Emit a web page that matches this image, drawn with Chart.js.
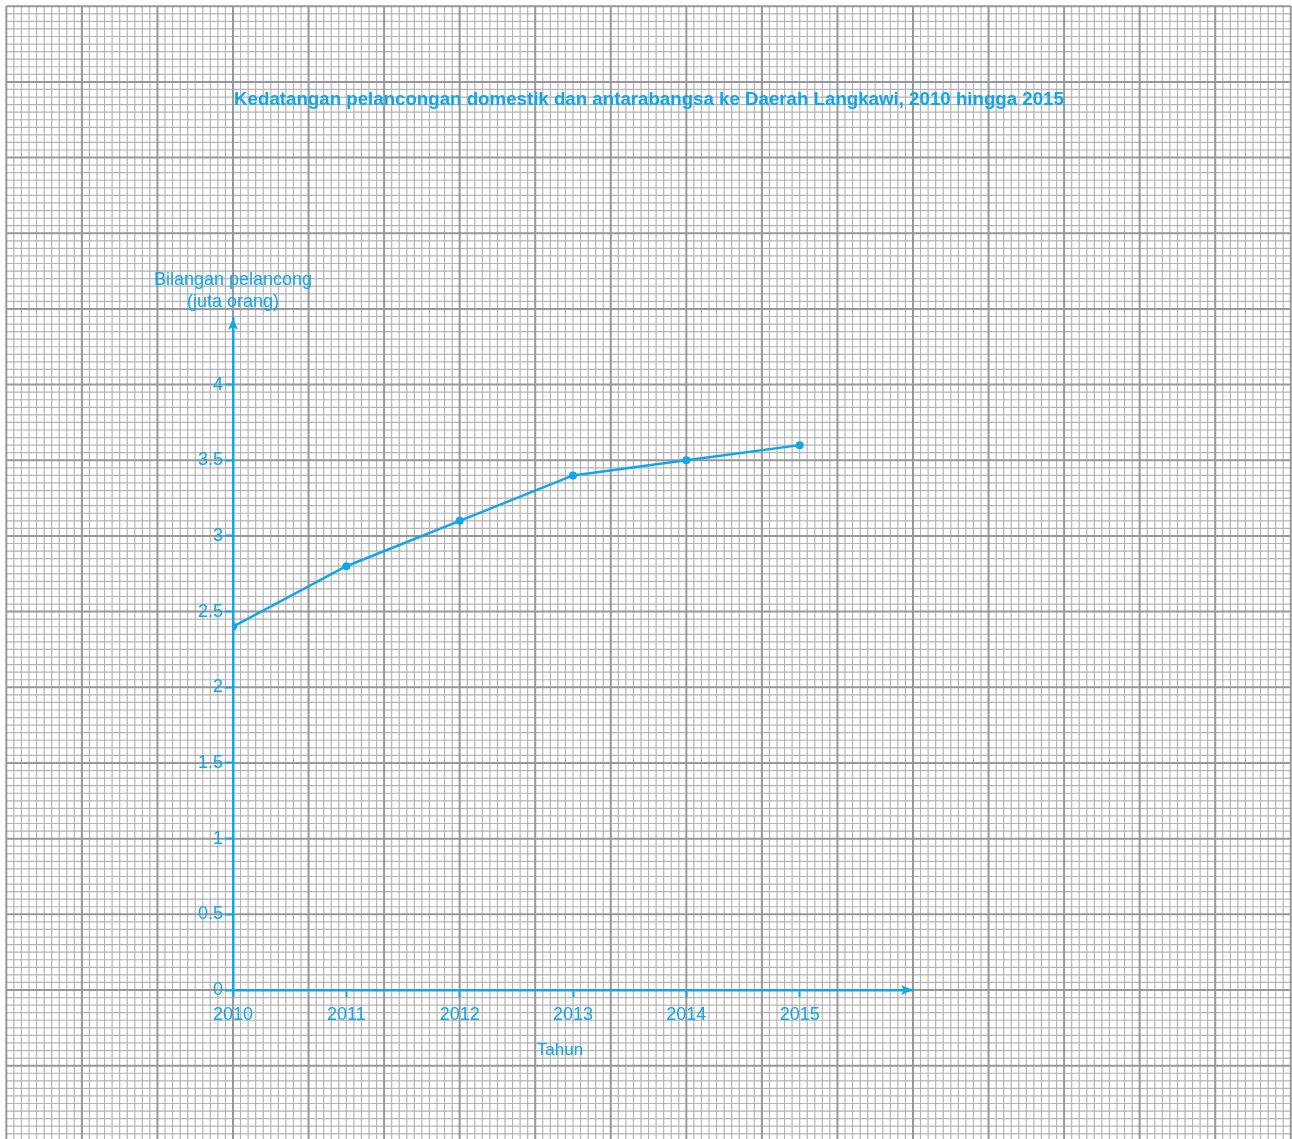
<!DOCTYPE html>
<html>
<head>
<meta charset="utf-8">
<script src="https://cdn.jsdelivr.net/npm/chart.js@4.4.1/dist/chart.umd.min.js"></script>
<style>
  body { margin: 0; background: #ffffff; }
  canvas { display: block; }
</style>
</head>
<body>
<canvas id="chart" width="1292" height="1139"></canvas>
<script>
// Data
const years = [2010, 2011, 2012, 2013, 2014, 2015];
const tourists = [2.4, 2.8, 3.1, 3.4, 3.5, 3.6];   // juta orang
const yTickValues = [0, 0.5, 1, 1.5, 2, 2.5, 3, 3.5, 4];

const titleText = 'Kedatangan pelancongan domestik dan antarabangsa ke Daerah Langkawi, 2010 hingga 2015';
const yTitleLines = ['Bilangan pelancong', '(juta orang)'];
const xTitleText = 'Tahun';

const BLUE = '#12a6e6';
const MINOR_COL = '#b4b4b6';
const MAJOR_COL = '#98989c';
const FONT = '"Liberation Sans", Arial, sans-serif';

// graph paper: minor squares are 1/15 year wide and 0.05 units high
const X_MINOR = 1 / 15;
const Y_MINOR = 0.05;

// Draws the graph paper background, using the chart's own scales so it lines up with the axes
const graphPaper = {
  id: 'graphPaper',
  beforeDraw(chart) {
    const ctx = chart.ctx;
    const x = chart.scales.x;
    const y = chart.scales.y;
    ctx.save();
    ctx.fillStyle = '#ffffff';
    ctx.fillRect(0, 0, chart.width, chart.height);

    const xs = [], ys = [];
    for (let k = -30; k <= 140; k++) xs.push({p: x.getPixelForValue(years[0] + k * X_MINOR), major: k % 10 == 0});
    for (let k = -20; k <= 130; k++) ys.push({p: y.getPixelForValue(k * Y_MINOR), major: k % 10 == 0});
    const left = xs[0].p, right = xs[xs.length - 1].p;
    const top = ys[ys.length - 1].p, bottom = chart.height;

    // minor first, then the heavier lines over them
    [false, true].forEach(major => {
      ctx.strokeStyle = major ? MAJOR_COL : MINOR_COL;
      ctx.lineWidth = major ? 2 : 1.2;
      ctx.beginPath();
      xs.filter(l => l.major == major).forEach(l => { ctx.moveTo(l.p, top); ctx.lineTo(l.p, bottom); });
      ys.filter(l => l.major == major).forEach(l => { ctx.moveTo(left, l.p); ctx.lineTo(right, l.p); });
      ctx.stroke();
    });
    ctx.restore();
  }
};

// Arrow heads on the axes plus the axis titles
const axisDecor = {
  id: 'axisDecor',
  afterDraw(chart) {
    const ctx = chart.ctx;
    const a = chart.chartArea;
    ctx.save();
    ctx.fillStyle = BLUE;
    // x arrow (slightly notched, like the original)
    ctx.beginPath();
    ctx.moveTo(a.right, a.bottom);
    ctx.lineTo(a.right - 12, a.bottom - 5);
    ctx.lineTo(a.right - 9, a.bottom);
    ctx.lineTo(a.right - 12, a.bottom + 5);
    ctx.closePath();
    ctx.fill();
    // y arrow
    ctx.beginPath();
    ctx.moveTo(a.left, a.top);
    ctx.lineTo(a.left - 5, a.top + 12);
    ctx.lineTo(a.left, a.top + 9);
    ctx.lineTo(a.left + 5, a.top + 12);
    ctx.closePath();
    ctx.fill();

    ctx.font = '18px ' + FONT;
    ctx.textAlign = 'center';
    ctx.textBaseline = 'middle';
    ctx.fillText(yTitleLines[0], a.left, 280);
    ctx.fillText(yTitleLines[1], a.left, 302);
    ctx.font = '17px ' + FONT;
    ctx.fillText(xTitleText, 560, 1050);
    ctx.restore();
  }
};

const ctx = document.getElementById('chart').getContext('2d');
const chart = new Chart(ctx, {
  type: 'line',
  data: {
    datasets: [{
      label: 'Bilangan pelancong',
      data: years.map((yr, i) => ({x: yr, y: tourists[i]})),
      borderColor: BLUE,
      backgroundColor: BLUE,
      borderWidth: 2.5,
      pointRadius: 4,
      pointBorderWidth: 0,
      pointBackgroundColor: BLUE,
      tension: 0,
      fill: false
    }]
  },
  options: {
    responsive: false,
    animation: false,
    layout: {
      padding: {top: 318, right: 379, bottom: 0, left: 0}
    },
    plugins: {
      legend: {display: false},
      tooltip: {enabled: false},
      title: {
        display: false
      }
    },
    scales: {
      x: {
        type: 'linear',
        min: 2010,
        max: 2016,
        afterFit: s => { s.height = 149; },
        afterBuildTicks: s => { s.ticks = years.map(v => ({value: v})); },
        border: {display: true, color: BLUE, width: 2.5},
        grid: {drawOnChartArea: false, drawTicks: true, tickLength: 7, color: BLUE, tickWidth: 2},
        ticks: {
          color: BLUE,
          padding: 7,
          maxRotation: 0,
          font: {family: FONT, size: 18},
          callback: v => String(v)
        }
      },
      y: {
        type: 'linear',
        min: 0,
        max: 4.44,
        afterFit: s => { s.width = 233; },
        afterBuildTicks: s => { s.ticks = yTickValues.map(v => ({value: v})); },
        border: {display: true, color: BLUE, width: 2.5},
        grid: {drawOnChartArea: false, drawTicks: true, tickLength: 8, color: BLUE, tickWidth: 2},
        ticks: {
          color: BLUE,
          padding: 2,
          font: {family: FONT, size: 18},
          callback: v => String(v)
        }
      }
    }
  },
  plugins: [graphPaper, axisDecor, {
    // main title, centered over the page
    id: 'pageTitle',
    afterDraw(chart) {
      const c = chart.ctx;
      c.save();
      c.fillStyle = BLUE;
      c.font = 'bold 18.7px ' + FONT;
      c.textAlign = 'center';
      c.textBaseline = 'middle';
      c.fillText(titleText, 649, 100);
      c.restore();
    }
  }]
});
</script>
</body>
</html>
